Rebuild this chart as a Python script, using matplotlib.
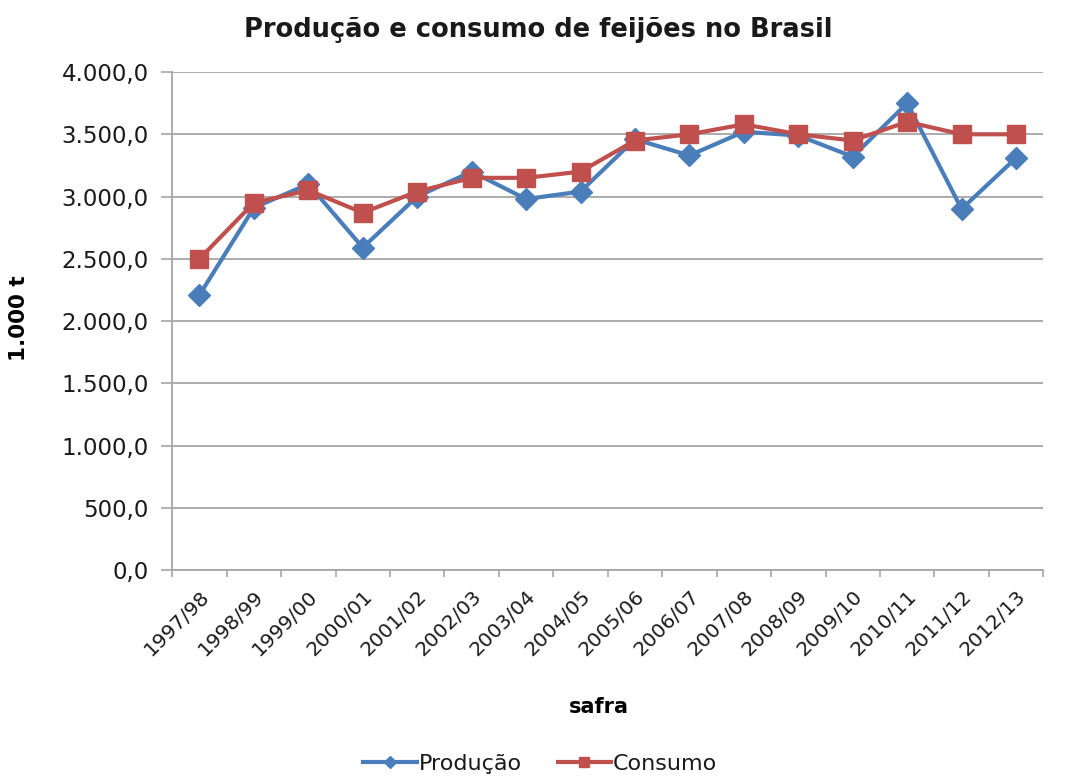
import numpy as np
import matplotlib
matplotlib.use('Agg')
import matplotlib.pyplot as plt
from matplotlib.ticker import FuncFormatter, FixedLocator

plt.rcParams['font.family'] = ['DejaVu Sans']
plt.rcParams['text.color'] = '#1a1a1a'
plt.rcParams['xtick.labelcolor'] = '#1a1a1a'
plt.rcParams['ytick.labelcolor'] = '#1a1a1a'

# Safras e valores (1.000 t)
safras = ['1997/98', '1998/99', '1999/00', '2000/01', '2001/02', '2002/03',
          '2003/04', '2004/05', '2005/06', '2006/07', '2007/08', '2008/09',
          '2009/10', '2010/11', '2011/12', '2012/13']
producao = [2210, 2910, 3100, 2590, 3000, 3200, 2980, 3040,
            3460, 3330, 3520, 3490, 3320, 3750, 2900, 3310]
consumo = [2500, 2950, 3050, 2870, 3040, 3150, 3150, 3200,
           3450, 3500, 3580, 3500, 3450, 3600, 3500, 3500]

azul = '#4a7ebb'
vermelho = '#c0504d'
cinza = '#a6a6a6'

fig, ax = plt.subplots(figsize=(10.7, 7.83), dpi=100)
fig.subplots_adjust(left=0.161, right=0.975, top=0.908, bottom=0.272)

x = np.arange(len(safras))
ax.plot(x, producao, color=azul, lw=3, marker='D', ms=11, label='Produção', zorder=3)
ax.plot(x, consumo, color=vermelho, lw=3, marker='s', ms=13, label='Consumo', zorder=4)

ax.set_xlim(-0.5, len(safras) - 0.5)
ax.set_ylim(0, 4000)
ax.set_yticks(np.arange(0, 4001, 500))


def fmt_br(v, pos):
    s = f'{v:,.1f}'
    return s.replace(',', 'X').replace('.', ',').replace('X', '.')


ax.yaxis.set_major_formatter(FuncFormatter(fmt_br))
ax.set_xticks(x)
ax.set_xticklabels(safras, rotation=45, ha='right', rotation_mode='anchor')
ax.xaxis.set_minor_locator(FixedLocator(np.arange(-0.5, len(safras), 1.0)))
ax.tick_params(axis='x', which='major', length=0, pad=12, labelsize=14.5)
ax.tick_params(axis='x', which='minor', length=5, color=cinza, width=1.2)
ax.tick_params(axis='y', length=8, color=cinza, width=1.2, labelsize=16.5, pad=9)

ax.grid(axis='y', color=cinza, lw=1.3)
ax.set_axisbelow(True)
for lado in ['top', 'right']:
    ax.spines[lado].set_visible(False)
for lado in ['left', 'bottom']:
    ax.spines[lado].set_color(cinza)
    ax.spines[lado].set_linewidth(1.3)

fig.text(0.503, 1 - 30 / 783, 'Produção e consumo de feijões no Brasil',
         fontsize=18.5, fontweight='bold', ha='center', va='center')
ax.set_ylabel('1.000 t', fontsize=15.5, fontweight='bold')
ax.yaxis.set_label_coords(-0.164, 0.506)
ax.set_xlabel('safra', fontsize=15, fontweight='bold')
ax.xaxis.set_label_coords(0.49, -0.255)

fig.legend(loc='center', bbox_to_anchor=(0.505, 0.024), ncol=2, frameon=False,
           fontsize=16, handlelength=2.4, columnspacing=1.6, handletextpad=0.1,
           markerscale=0.55, borderpad=0.2)

fig.savefig('out.png', dpi=100, facecolor='white')
